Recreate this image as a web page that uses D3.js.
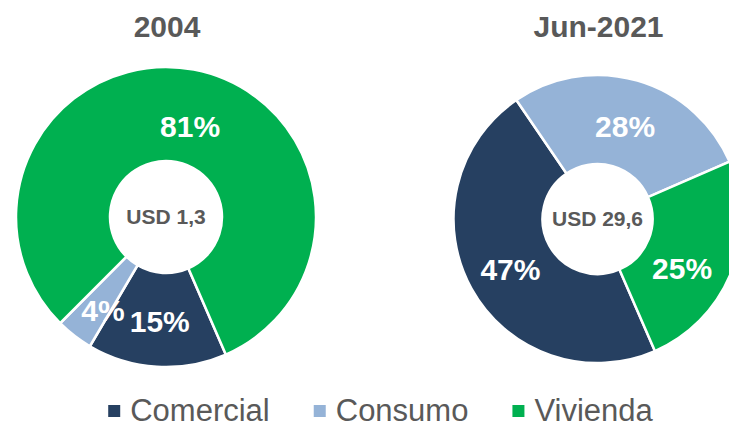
<!DOCTYPE html>
<html>
<head>
<meta charset="utf-8">
<script src="https://cdn.jsdelivr.net/npm/d3@7"></script>
<style>
  html, body { margin: 0; padding: 0; background: #fff; }
  svg { display: block; font-family: "Liberation Sans", Arial, sans-serif; }
</style>
</head>
<body>
<div id="chart"></div>
<script>
// datos
const categorias = ['Comercial', 'Consumo', 'Vivienda'];
const colores = ['#264061', '#95B3D7', '#00B050'];
const titulos = ['2004', 'Jun-2021'];
const totales = ['USD 1,3', 'USD 29,6'];
const valores2004 = [15, 4, 81];
const valores2021 = [47, 28, 25];

const W = 729, H = 428;
const svg = d3.select('#chart').append('svg')
    .attr('width', W)
    .attr('height', H);

const color = d3.scaleOrdinal().domain(categorias).range(colores);

// ángulo del primer sector (igual en ambos gráficos)
const inicio = 156.5 * Math.PI / 180;

const pie = d3.pie()
    .sort(null)
    .startAngle(inicio)
    .endAngle(inicio + 2 * Math.PI);

// donas: centro, radios y pequeños ajustes de etiquetas
const donas = [
    { valores: valores2004, cx: 166, cy: 217, r: 150, ri: 56,
      ajuste: [[0, 2], [0, 12], [5, 11]] },
    { valores: valores2021, cx: 597.5, cy: 219, r: 144, ri: 55,
      ajuste: [[0, 2], [0, 3], [-8, 13]] }
];

donas.forEach(function(d, i) {
    const g = svg.append('g')
        .attr('transform', `translate(${d.cx},${d.cy})`);

    const arc = d3.arc().innerRadius(d.ri).outerRadius(d.r);
    const datos = pie(d.valores);

    g.selectAll('path')
        .data(datos)
        .enter().append('path')
        .attr('d', arc)
        .attr('fill', (p, k) => color(categorias[k]))
        .attr('stroke', '#fff')
        .attr('stroke-width', 2.5)
        .attr('stroke-linejoin', 'miter');

    // etiquetas de porcentaje
    g.selectAll('text.pct')
        .data(datos)
        .enter().append('text')
        .attr('class', 'pct')
        .attr('x', (p, k) => arc.centroid(p)[0] + d.ajuste[k][0])
        .attr('y', (p, k) => arc.centroid(p)[1] + d.ajuste[k][1])
        .attr('text-anchor', 'middle')
        .attr('dy', '0.35em')
        .attr('fill', '#fff')
        .attr('font-weight', 'bold')
        .attr('font-size', 30)
        .text(p => p.data + '%');

    // total en el centro
    g.append('text')
        .attr('text-anchor', 'middle')
        .attr('y', 0)
        .attr('dy', '0.35em')
        .attr('fill', '#595959')
        .attr('font-weight', 'bold')
        .attr('font-size', 21)
        .text(totales[i]);

    // título
    svg.append('text')
        .attr('x', d.cx + 1)
        .attr('y', 37)
        .attr('text-anchor', 'middle')
        .attr('fill', '#595959')
        .attr('font-weight', 'bold')
        .attr('font-size', 30)
        .text(titulos[i]);
});

// leyenda centrada
const hueco = 44;
const leyenda = svg.append('g');
let x = 0;
categorias.forEach(function(c, k) {
    const item = leyenda.append('g').attr('transform', `translate(${x},0)`);
    item.append('rect')
        .attr('x', 0).attr('y', -16)
        .attr('width', 12).attr('height', 12)
        .attr('fill', color(c));
    const t = item.append('text')
        .attr('x', 22).attr('y', 0)
        .attr('fill', '#595959')
        .attr('font-size', 31)
        .text(c);
    x += 22 + t.node().getComputedTextLength() + hueco;
});
const anchoLeyenda = x - hueco;
leyenda.attr('transform', `translate(${380.5 - anchoLeyenda / 2},421)`);
</script>
</body>
</html>
